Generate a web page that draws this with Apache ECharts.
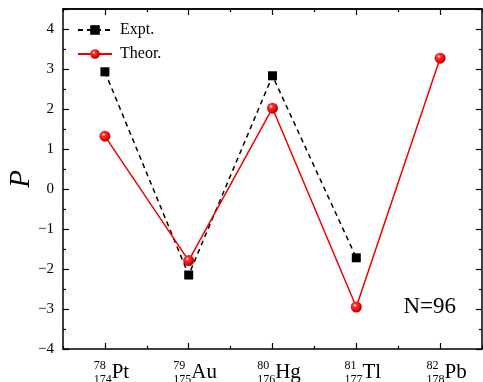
<!DOCTYPE html>
<html>
<head>
<meta charset="utf-8">
<script src="https://cdn.jsdelivr.net/npm/echarts@6/dist/echarts.min.js"></script>
<style>html,body{margin:0;padding:0;background:#fff}#c{width:483px;height:382px}</style>
</head>
<body>
<div id="c"></div>
<script>
var massNumbers = ['174', '175', '176', '177', '178'];
var atomicNumbers = ['78', '79', '80', '81', '82'];
var elements = ['Pt', 'Au', 'Hg', 'Tl', 'Pb'];
var categories = ['Pt174', 'Au175', 'Hg176', 'Tl177', 'Pb178'];
var exptValues = [2.93, -2.15, 2.83, -1.72, null];
var theorValues = [1.32, -1.79, 2.02, -2.95, 3.27];

var FONT = '"Liberation Serif", "DejaVu Serif", serif';
var chart = echarts.init(document.getElementById('c'), null, {renderer: 'canvas'});

var ballColor = {
  type: 'radial', x: 0.38, y: 0.35, r: 0.7,
  colorStops: [
    {offset: 0, color: '#ffffff'},
    {offset: 0.25, color: '#ff3030'},
    {offset: 0.75, color: '#e00000'},
    {offset: 1, color: '#a00000'}
  ]
};

var hiddenCatAxis = function (pos, len, align) {
  return {
    type: 'category', data: categories, position: pos, gridIndex: 0,
    boundaryGap: true,
    axisLine: {show: pos === 'top', onZero: false, lineStyle: {color: '#000', width: 1.5}},
    axisTick: {show: true, inside: true, length: len, alignWithLabel: align, interval: 0, lineStyle: {color: '#000', width: 1.2}},
    axisLabel: {show: false}, splitLine: {show: false}
  };
};

var option = {
  animation: false,
  backgroundColor: '#fff',
  grid: {left: 63, right: 1, top: 9, bottom: 33, containLabel: false, outerBoundsMode: 'none'},
  legend: {
    left: 72, top: 17, orient: 'vertical',
    itemWidth: 34, itemHeight: 12, itemGap: 8,
    textStyle: {fontFamily: FONT, fontSize: 16, color: '#000', padding: [0, 0, 0, 3]},
    data: ['Expt.', 'Theor.']
  },
  title: {
    text: 'N=96', right: 22, top: 290,
    textStyle: {fontFamily: FONT, fontSize: 23, fontWeight: 'normal', color: '#000'}
  },
  xAxis: [
    {
      type: 'category', data: categories, position: 'bottom', boundaryGap: true,
      axisLine: {show: true, onZero: false, lineStyle: {color: '#000', width: 1.5}},
      axisTick: {show: true, inside: true, length: 6, alignWithLabel: true, interval: 0, lineStyle: {color: '#000', width: 1.2}},
      axisLabel: {
        margin: 11, interval: 0, hideOverlap: false,
        formatter: function (v, i) {
          return '{sup|' + atomicNumbers[i] + '}\n{sub|' + massNumbers[i] + '}{el|' + elements[i] + '}';
        },
        rich: {
          sup: {fontFamily: FONT, fontSize: 12, color: '#000', lineHeight: 2, verticalAlign: 'top', align: 'left', padding: [0, 0, 0, 13]},
          sub: {fontFamily: FONT, fontSize: 12, color: '#000', lineHeight: 23.5, verticalAlign: 'bottom', align: 'left', padding: [0, 0, 0, 13]},
          el: {fontFamily: FONT, fontSize: 21, color: '#000', lineHeight: 20, verticalAlign: 'top', align: 'left'}
        }
      },
      splitLine: {show: false}
    },
    hiddenCatAxis('bottom', 3, false),
    hiddenCatAxis('top', 6, true),
    hiddenCatAxis('top', 3, false)
  ],
  yAxis: [
    {
      type: 'value', min: -4, max: 4.5, interval: 1, position: 'left',
      axisLine: {show: true, onZero: false, lineStyle: {color: '#000', width: 1.5}},
      axisTick: {show: true, inside: true, length: 6, lineStyle: {color: '#000', width: 1.2}},
      minorTick: {show: true, splitNumber: 2, length: 3, lineStyle: {color: '#000', width: 1.2}},
      axisLabel: {
        margin: 9, fontFamily: FONT, fontSize: 15, color: '#000',
        formatter: function (v) {
          if (Math.abs(v - Math.round(v)) > 1e-6) return '';
          return String(v).replace('-', '\u2212');
        }
      },
      splitLine: {show: false},
      name: 'P', nameLocation: 'middle', nameGap: 27, nameRotate: 90, nameMoveOverlap: false,
      nameTextStyle: {fontFamily: FONT, fontSize: 29, fontStyle: 'italic', color: '#000'}
    },
    {
      type: 'value', min: -4, max: 4.5, interval: 1, position: 'right',
      axisLine: {show: true, onZero: false, lineStyle: {color: '#000', width: 1.5}},
      axisTick: {show: true, inside: true, length: 6, lineStyle: {color: '#000', width: 1.2}},
      minorTick: {show: true, splitNumber: 2, length: 3, lineStyle: {color: '#000', width: 1.2}},
      axisLabel: {show: false}, splitLine: {show: false}
    }
  ],
  series: [
    {
      name: 'Expt.', type: 'line', data: exptValues,
      symbol: 'rect', symbolSize: 9, showAllSymbol: true,
      lineStyle: {color: '#000', width: 1.5, type: [5, 4]},
      itemStyle: {color: '#000'},
      z: 2
    },
    {
      name: 'Theor.', type: 'line', data: theorValues,
      symbol: 'circle', symbolSize: 11, showAllSymbol: true,
      lineStyle: {color: '#f00000', width: 1.5},
      itemStyle: {color: ballColor, borderWidth: 0},
      z: 3
    }
  ]
};
chart.setOption(option);
</script>
</body>
</html>
